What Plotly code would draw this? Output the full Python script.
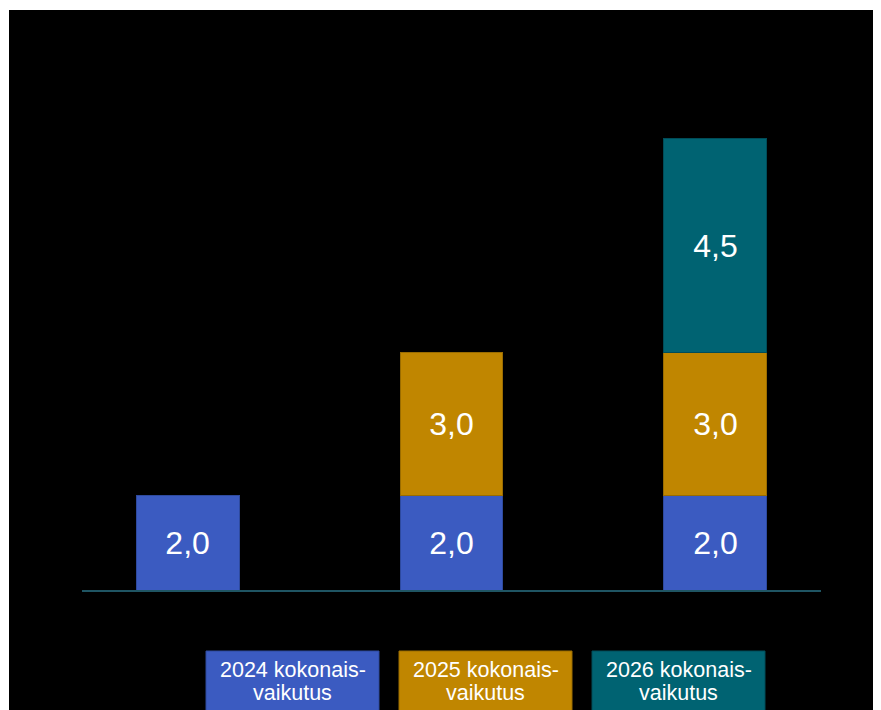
import plotly.graph_objects as go

categories = ["2024", "2025", "2026"]
series_names = ["2024 kokonais-<br>vaikutus", "2025 kokonais-<br>vaikutus", "2026 kokonais-<br>vaikutus"]
vals_2024 = [2.0, 2.0, 2.0]
vals_2025 = [None, 3.0, 3.0]
vals_2026 = [None, None, 4.5]
series_values = [vals_2024, vals_2025, vals_2026]
colors = ["#3B5BC1", "#C08600", "#006372"]
edge_colors = ["#2E4A9E", "#9A6C00", "#004C58"]

W, H = 881, 710
ML, MR, MT, MB = 74, 68, 22, 128
PW, PH = W - ML - MR, H - MT - MB

def px_x(p):
    return (p - ML) / PW

def px_y(p):
    return (H - MB - p) / PH

fig = go.Figure()
for name, vals, c, ec in zip(series_names, series_values, colors, edge_colors):
    fig.add_trace(go.Bar(
        x=categories, y=vals, name=name.replace("<br>", ""), width=0.39,
        marker=dict(color=c, line=dict(color=ec, width=1)),
        texttemplate="%{y:.1f}", textposition="inside", insidetextanchor="middle",
        textangle=0, textfont=dict(family="Liberation Sans, Arial", size=32, color="white"),
        showlegend=False,
    ))

shapes = [
    dict(type="rect", xref="paper", yref="paper", x0=px_x(0), x1=px_x(W), y0=px_y(0), y1=px_y(2),
         fillcolor="white", line=dict(width=0), layer="above"),
    dict(type="rect", xref="paper", yref="paper", x0=px_x(0), x1=px_x(1), y0=px_y(0), y1=px_y(H),
         fillcolor="white", line=dict(width=0), layer="above"),
]
annotations = []
box_left = [198, 391, 584]
box_w = 173
line_centers = [662, 685]
for i, (name, c, ec) in enumerate(zip(series_names, colors, edge_colors)):
    x0 = box_left[i]
    shapes.append(dict(type="rect", xref="paper", yref="paper",
                       x0=px_x(x0), x1=px_x(x0 + box_w), y0=px_y(643), y1=px_y(H + 20),
                       fillcolor=c, line=dict(color=ec, width=1), layer="above"))
    for line_text, yc in zip(name.split("<br>"), line_centers):
        annotations.append(dict(xref="paper", yref="paper", x=px_x(x0 + box_w / 2), y=px_y(yc),
                                xanchor="center", yanchor="middle", showarrow=False,
                                text=line_text, align="center",
                                font=dict(family="Liberation Sans, Arial", size=21.5, color="white")))

fig.update_layout(
    width=W, height=H, barmode="stack", separators=", ",
    paper_bgcolor="black", plot_bgcolor="black",
    margin=dict(l=ML, r=MR, t=MT, b=MB),
    xaxis=dict(range=[-0.40, 2.40], showline=True, linecolor="#1F5563", linewidth=2,
               showticklabels=False, showgrid=False, zeroline=False, ticks=""),
    yaxis=dict(range=[0, PH / 47.5], visible=False, showgrid=False, zeroline=False),
    shapes=shapes, annotations=annotations,
)
fig.write_html("out.html")
